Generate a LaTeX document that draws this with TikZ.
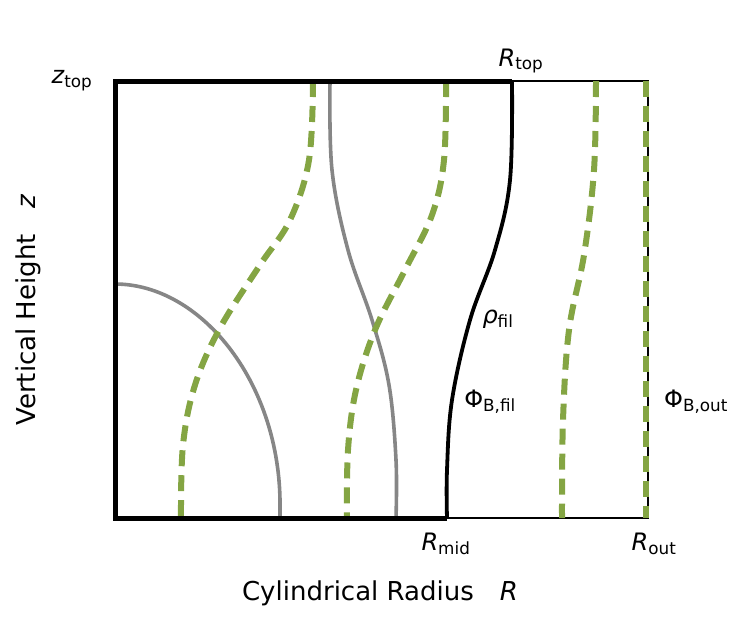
\documentclass[tikz,border=0pt]{standalone}
\usepackage{fontspec}
\setmainfont{DejaVu Sans}
\begin{document}
\begin{tikzpicture}[x=1pt,y=-1pt,
  gr/.style={draw=gray!95,line width=3.6pt},
  gd/.style={draw={rgb,255:red,132;green,165;blue,67},line width=6pt,dash pattern=on 16pt off 9pt},
  lbl/.style={font=\fontsize{24}{28}\selectfont,inner sep=0pt}]
\useasboundingbox (0,0) rectangle (747,625);
\coordinate (tl) at (115,81); \coordinate (bl) at (115,518);
\coordinate (bm) at (447,518); \coordinate (tm) at (512,81);
\coordinate (tr) at (648,81); \coordinate (br) at (648,518);
\draw[line width=1.6pt] (tm) -- (tr) -- (br) -- (bm);
% gray curves
\draw[gr] (115,284) .. controls (200,284) and (278,380) .. (280,500) -- (280,518);
\draw[gr] plot[smooth,tension=0.6] coordinates{(330,81) (332,170) (348,250) (372,320) (389,385) (396,460) (396,518)};
% green dashed
\draw[gd] plot[smooth,tension=0.6] coordinates{(313,81) (309,160) (290,220) (260,265) (220,328) (195,385) (183,445) (181,518)};
\draw[gd] plot[smooth,tension=0.6] coordinates{(446,81) (444,160) (432,215) (405,270) (375,330) (356,390) (348,450) (347,518)};
\draw[gd] plot[smooth,tension=0.6] coordinates{(596,81) (594,170) (584,255) (569,330) (563,420) (562,518)};
\draw[gd] (646,81) -- (646,518);
% black curve
\draw[line width=3.8pt] plot[smooth,tension=0.6] coordinates{(512,81) (510,180) (495,250) (470,320) (452,400) (447,470) (447,518)};
\draw[line width=5pt] (tm) -- (tl) -- (bl) -- (bm);
% labels
\node[lbl] (zt) at (72,81) {\itshape z\textsubscript{\upshape top}};
\node[lbl] (rt) at (521,61) {\itshape R\textsubscript{\upshape top}};
\node[lbl] (rho) at (498,319) {\itshape ρ\textsubscript{\upshape fil}};
\node[lbl] (pf) at (490,402) {Φ\textsubscript{B,fil}};
\node[lbl] (po) at (696,402) {Φ\textsubscript{B,out}};
\node[lbl] (rm) at (446,544) {\itshape R\textsubscript{\upshape mid}};
\node[lbl] (ro) at (654,544) {\itshape R\textsubscript{\upshape out}};
\node[lbl,font=\fontsize{26}{30}\selectfont] (xl) at (380,593) {Cylindrical Radius\quad{\itshape R}};
\node[lbl,font=\fontsize{26}{30}\selectfont,rotate=90] (yl) at (28,310) {Vertical Height\quad{\itshape z}};
\end{tikzpicture}
\end{document}
